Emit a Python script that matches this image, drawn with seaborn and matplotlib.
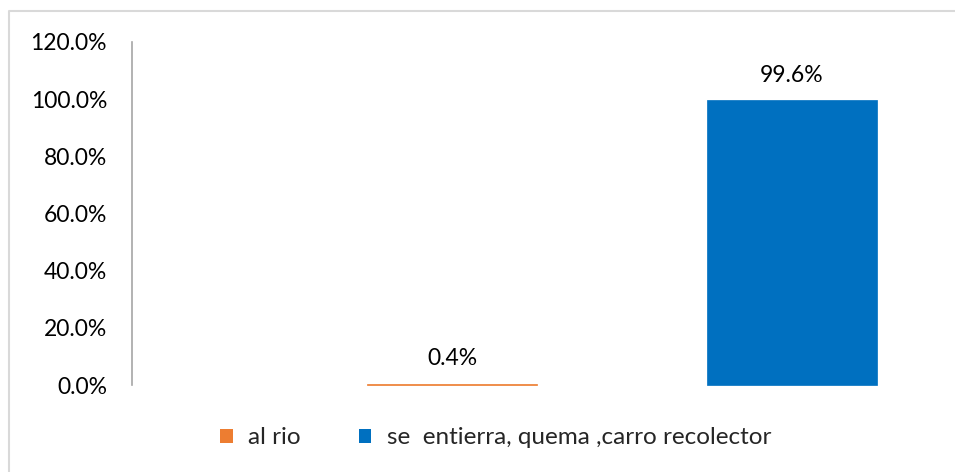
import matplotlib
matplotlib.use("Agg")
import matplotlib.pyplot as plt
import seaborn as sns
import pandas as pd
from matplotlib.lines import Line2D
from matplotlib.patches import Patch
from matplotlib.ticker import FuncFormatter

# data
categories = ["al rio", "se  entierra, quema ,carro recolector"]
values = [0.4, 99.6]
labels = ["0.4%", "99.6%"]
colors = ["#ED7D31", "#0070C0"]

sns.set_style("white")
plt.rcParams['font.family'] = ['Lato', 'DejaVu Sans']

df = pd.DataFrame({"cat": categories, "val": values})

W, H = 955, 472
fig = plt.figure(figsize=(W / 100, H / 100), dpi=100)
ax = fig.add_axes([132 / W, 87 / H, 823 / W, 343 / H])

sns.barplot(data=df, x="cat", y="val", hue="cat", palette=colors,
            width=0.5, legend=False, ax=ax, saturation=1)
# make the tiny 0.4% bar show as a thin line, like in the original
for p, c in zip(ax.patches, colors):
    p.set_edgecolor(c)
    p.set_linewidth(0.5)
    p.set_clip_on(False)

ax.set_xlim(-320 / 340, 1 + 163 / 340)
ax.set_ylim(0, 120)
ax.set_yticks([0, 20, 40, 60, 80, 100, 120])
ax.yaxis.set_major_formatter(FuncFormatter(lambda v, p: f"{v:.1f}%"))
ax.tick_params(axis="y", length=0, pad=18, labelsize=16.5, labelcolor="#000000")
ax.set_xticks([])
ax.set_xlabel("")
ax.set_ylabel("")
for s in ["top", "right", "bottom"]:
    ax.spines[s].set_visible(False)
ax.spines["left"].set_color("#A6A6A6")
ax.spines["left"].set_linewidth(1.2)

for i, (v, t) in enumerate(zip(values, labels)):
    ax.annotate(t, (i, v), xytext=(0, 18), textcoords="offset points",
                ha="center", va="center", fontsize=16.5, color="#000000")

handles = [Patch(facecolor=c, edgecolor="none") for c in colors]
fig.legend(handles, categories, loc="center", bbox_to_anchor=(496 / W, 1 - 438 / H),
           ncol=2, frameon=False, fontsize=17.5, handlelength=0.5, handleheight=0.5,
           handletextpad=0.65, columnspacing=2.4)

# light grey chart frame (top and left edges visible)
fig.add_artist(Line2D([9 / W, 9 / W, 1.0], [0.0, 1 - 11 / H, 1 - 11 / H],
                      transform=fig.transFigure, color="#D9D9D9", linewidth=1.5))

fig.savefig("out.png", dpi=100)
